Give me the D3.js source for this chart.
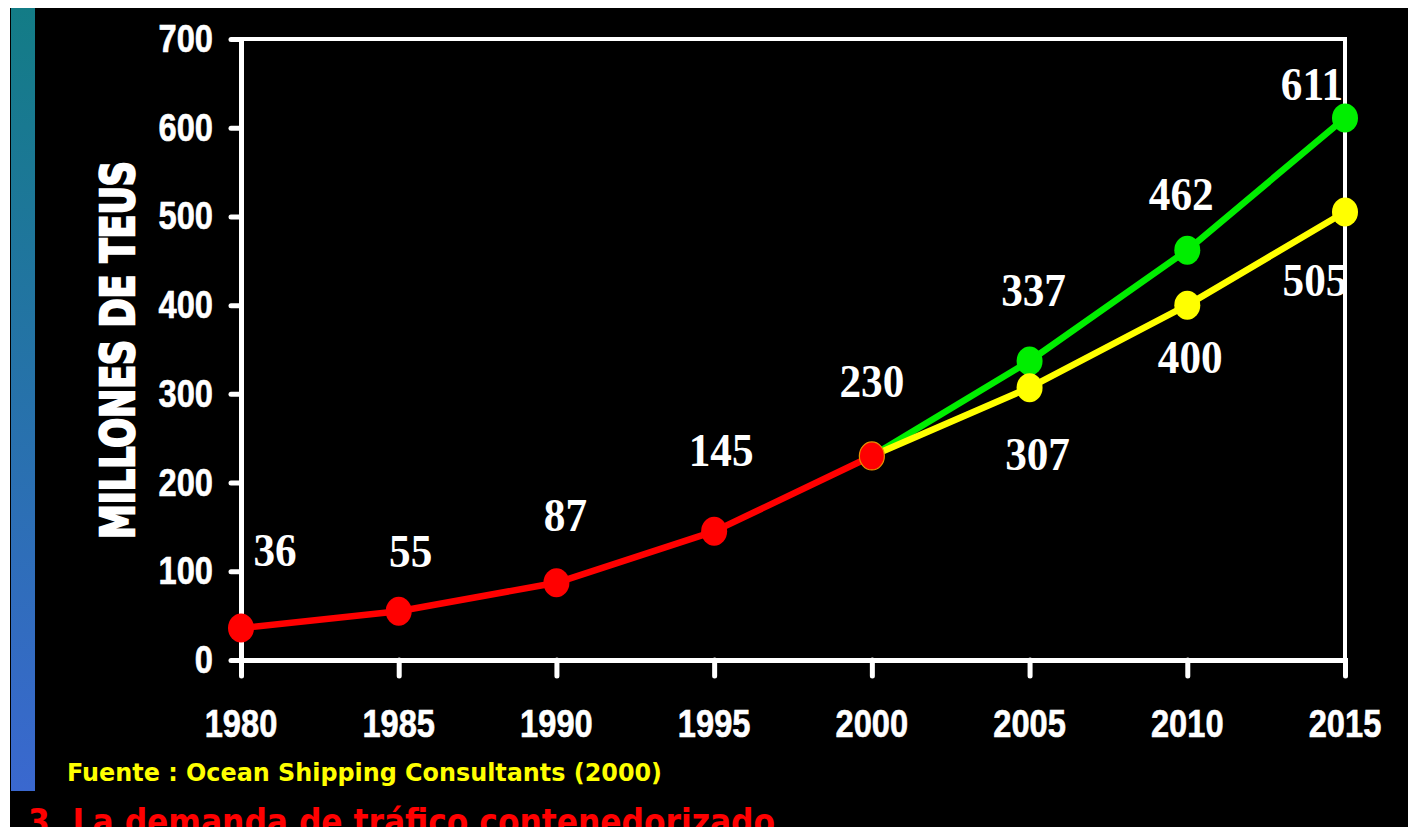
<!DOCTYPE html>
<html><head><meta charset="utf-8">
<script src="https://cdn.jsdelivr.net/npm/d3@7"></script>
<style>html,body{margin:0;padding:0;background:#fff;overflow:hidden}</style>
</head><body>
<script>
const years = [1980, 1985, 1990, 1995, 2000, 2005, 2010, 2015];
const histYears = [1980, 1985, 1990, 1995, 2000];
const histValues = [36, 55, 87, 145, 230];
const projYears = [2000, 2005, 2010, 2015];
const highValues = [230, 337, 462, 611];
const lowValues = [230, 307, 400, 505];
const yTicks = [0, 100, 200, 300, 400, 500, 600, 700];
const yTitle = "MILLONES DE TEUS";
const source = "Fuente : Ocean Shipping Consultants (2000)";
const heading = "3. La demanda de tráfico contenedorizado";

const W = 1408, H = 827;
const svg = d3.select("body").append("svg").attr("width", W).attr("height", H);
const defs = svg.append("defs");
const grad = defs.append("linearGradient").attr("id","bar").attr("x1",0).attr("y1",0).attr("x2",0).attr("y2",1);
grad.append("stop").attr("offset","0%").attr("stop-color","#137c86");
grad.append("stop").attr("offset","100%").attr("stop-color","#3a68cf");

svg.append("rect").attr("x",0).attr("y",0).attr("width",W).attr("height",H).attr("fill","#fff");
svg.append("rect").attr("x",10).attr("y",8).attr("width",W-10).attr("height",H-8).attr("fill","#000");
svg.append("rect").attr("x",11).attr("y",8).attr("width",24).attr("height",783).attr("fill","url(#bar)");

const x = d3.scaleLinear().domain([1980, 2015]).range([241, 1345]);
const y = d3.scaleLinear().domain([0, 700]).range([660, 39]);

// frame top & right
svg.append("path").attr("d", `M${x(1980)},${y(700)}H${x(2015)}V${y(0)}`)
  .attr("fill","none").attr("stroke","#fff").attr("stroke-width",4);

// axes
const yAxis = d3.axisLeft(y).tickValues(yTicks).tickSize(10).tickFormat("");
const gy = svg.append("g").attr("transform",`translate(${x(1980)},0)`).call(yAxis);
gy.select(".domain").attr("stroke","#fff").attr("stroke-width",5);
gy.selectAll(".tick line").attr("stroke","#fff").attr("stroke-width",5).attr("stroke-linecap","round");

const xAxis = d3.axisBottom(x).tickValues(years).tickSize(16).tickFormat("");
const gx = svg.append("g").attr("transform",`translate(0,${y(0)})`).call(xAxis);
gx.select(".domain").attr("stroke","#fff").attr("stroke-width",5);
gx.selectAll(".tick line").attr("stroke","#fff").attr("stroke-width",5).attr("stroke-linecap","round");

// tick labels
const tickFont = "'Liberation Sans', Arial, sans-serif";
svg.append("g").selectAll("text").data(yTicks).join("text")
  .attr("transform", d => `translate(213,${y(d)+13}) scale(0.86,1)`)
  .attr("text-anchor","end").attr("font-family",tickFont).attr("font-weight","bold")
  .attr("font-size",38).attr("fill","#fff").attr("stroke","#fff").attr("stroke-width",0.6).text(d => d);
svg.append("g").selectAll("text").data(years).join("text")
  .attr("transform", d => `translate(${x(d)},737) scale(0.86,1)`)
  .attr("text-anchor","middle").attr("font-family",tickFont).attr("font-weight","bold")
  .attr("font-size",38).attr("fill","#fff").attr("stroke","#fff").attr("stroke-width",0.6).text(d => d);

// y title
svg.append("text").attr("transform","translate(134,350) rotate(-90)")
  .attr("text-anchor","middle").attr("font-family","'DejaVu Sans', sans-serif").attr("font-weight","bold")
  .attr("font-size",46).attr("fill","#fff").attr("stroke","#fff").attr("stroke-width",2.5)
  .attr("textLength",378).attr("lengthAdjust","spacingAndGlyphs").text(yTitle);

// lines
const line = d3.line().x(d => x(d[0])).y(d => y(d[1]));
function series(ys, vs, color) {
  const pts = ys.map((yr,i) => [yr, vs[i]]);
  svg.append("path").datum(pts).attr("d", line).attr("fill","none")
    .attr("stroke", color).attr("stroke-width",6.5).attr("stroke-linejoin","round");
  return pts;
}
const gPts = series(projYears, highValues, "#00ee00");
const yPts = series(projYears, lowValues, "#ffff00");
const rPts = series(histYears, histValues, "#ff0000");
function markers(pts, color) {
  svg.append("g").selectAll("ellipse").data(pts).join("ellipse")
    .attr("cx", d => x(d[0])).attr("cy", d => y(d[1])).attr("rx",13).attr("ry",14.5)
    .attr("fill", color);
}
markers(gPts.slice(1), "#00ee00");
markers(yPts.slice(1), "#ffff00");
markers(rPts.slice(0, -1), "#ff0000");
svg.append("ellipse").attr("cx",x(2000)).attr("cy",y(230)).attr("rx",12.5).attr("ry",14)
  .attr("fill","#ff0000").attr("stroke","#e89000").attr("stroke-width",1.2);

// data labels
const labFont = "'Liberation Serif', 'Times New Roman', serif";
function labels(ys, vs, dx, dy) {
  svg.append("g").selectAll("text").data(ys.map((yr,i)=>[yr,vs[i]])).join("text")
    .attr("transform", (d,i) => `translate(${x(d[0])+dx[i]},${y(d[1])+dy[i]}) scale(0.92,1)`)
    .attr("text-anchor","middle").attr("font-family",labFont).attr("font-weight","bold")
    .attr("font-size",47).attr("fill","#fff").text(d => d[1]);
}
labels(histYears, histValues, [34, 12, 9, 7, 0], [-62, -44, -52, -65, -59]);
labels(projYears.slice(1), highValues.slice(1), [4, -6, -33], [-55, -40, -18]);
labels(projYears.slice(1), lowValues.slice(1), [8, 3, -30], [82, 68, 84]);

// source
svg.append("text").attr("x",67).attr("y",781)
  .attr("font-family","'DejaVu Sans', sans-serif").attr("font-weight","bold")
  .attr("font-size",24).attr("fill","#ffff00")
  .attr("textLength",595).attr("lengthAdjust","spacingAndGlyphs").text(source);

// heading (cut off at the bottom edge, as in the reference)
svg.append("text").attr("x",28).attr("y",834)
  .attr("font-family","'DejaVu Sans', sans-serif").attr("font-weight","bold")
  .attr("font-size",36).attr("fill","#ff0000")
  .attr("textLength",747).attr("lengthAdjust","spacingAndGlyphs").text(heading);
</script>
</body></html>
